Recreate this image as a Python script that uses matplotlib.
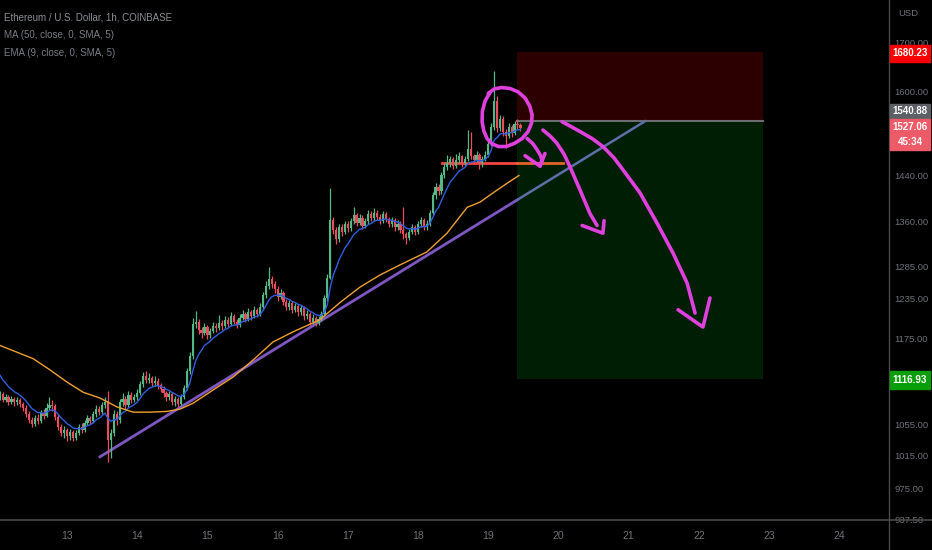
import numpy as np
import pandas as pd
import matplotlib
matplotlib.use('Agg')
import matplotlib.pyplot as plt
from matplotlib.lines import Line2D
from matplotlib.patches import Rectangle
from matplotlib.ticker import FixedLocator, FixedFormatter, NullLocator

plt.rcParams['font.family'] = ['Liberation Sans', 'DejaVu Sans']

# hourly ETH/USD candles, t = hours after the 13th 00:00
t_start = -23
first_open = 1092
closes = [1096, 1089, 1093, 1086, 1090, 1085, 1089,
          1083, 1078, 1070, 1062, 1056,
          1064, 1060, 1071, 1067, 1078, 1082, 1080,
          1066, 1052, 1044, 1048,
          1040, 1046, 1038, 1045, 1052, 1049, 1058, 1064, 1060, 1070, 1076, 1072, 1081, 1085,
          1035, 1045, 1070, 1062, 1085, 1090, 1082, 1095, 1088, 1092,
          1098, 1110, 1122, 1116, 1119, 1112, 1115, 1109, 1104, 1098, 1092, 1096, 1086, 1090, 1083,
          1092, 1105, 1128, 1150, 1196,
          1200, 1188, 1183, 1192, 1180, 1186, 1194, 1190, 1198, 1193, 1203, 1197, 1208, 1200,
          1195, 1206, 1212, 1204, 1214, 1208, 1218, 1212, 1222,
          1240, 1255, 1266, 1258, 1250, 1238, 1244, 1230, 1222, 1228, 1218, 1224, 1214, 1220,
          1208, 1212, 1200, 1206, 1198, 1204, 1212, 1236, 1268,
          1362, 1345, 1330, 1350, 1342, 1355, 1348, 1360, 1370, 1358, 1366, 1352, 1360, 1372,
          1365, 1375, 1368, 1360, 1372, 1364, 1356, 1362, 1350, 1356, 1345, 1338, 1332, 1342,
          1350, 1342, 1355, 1362, 1350, 1356,
          1375, 1405, 1420, 1412, 1440, 1455, 1462, 1470, 1458, 1468, 1475, 1462, 1470, 1488,
          1475, 1468, 1478, 1462, 1470, 1478, 1498, 1530,
          1580, 1528, 1545, 1520, 1512, 1530, 1518, 1535, 1534, 1527]
highs = [1101, 1099, 1097, 1095, 1094, 1093, 1093,
         1091, 1086, 1081, 1073, 1066,
         1068, 1069, 1075, 1076, 1084, 1092, 1088,
         1083, 1069, 1056, 1053,
         1051, 1050, 1049, 1049, 1056, 1057, 1062, 1068, 1067, 1074, 1082, 1080, 1086, 1092,
         1101, 1050, 1075, 1074, 1090, 1098, 1094, 1100, 1099, 1097,
         1103, 1115, 1127, 1128, 1125, 1122, 1121, 1118, 1112, 1108, 1101, 1100, 1099, 1094, 1093,
         1096, 1109, 1132, 1155, 1205,
         1216, 1204, 1192, 1198, 1195, 1191, 1200, 1198, 1210, 1202, 1208, 1207, 1214, 1212,
         1204, 1211, 1218, 1215, 1220, 1218, 1223, 1221, 1228,
         1245, 1262, 1284, 1270, 1262, 1254, 1250, 1247, 1234, 1233, 1231, 1229, 1227, 1226,
         1223, 1217, 1215, 1211, 1209, 1209, 1216, 1240, 1274,
         1418, 1368, 1350, 1356, 1355, 1360, 1360, 1366, 1385, 1374, 1372, 1370, 1366, 1380,
         1378, 1382, 1380, 1372, 1377, 1376, 1368, 1367, 1365, 1362, 1360, 1384, 1342, 1347,
         1355, 1354, 1360, 1368, 1366, 1362,
         1380, 1410, 1426, 1425, 1446, 1462, 1478, 1475, 1474, 1480, 1482, 1478, 1476, 1525,
         1520, 1480, 1484, 1481, 1475, 1484, 1504, 1538,
         1640, 1590, 1552, 1550, 1526, 1538, 1534, 1542, 1545, 1538]
lows = [1089, 1085, 1086, 1082, 1083, 1080, 1082,
        1079, 1074, 1066, 1058, 1052,
        1053, 1056, 1058, 1063, 1065, 1075, 1074,
        1062, 1048, 1040, 1038,
        1034, 1036, 1034, 1035, 1042, 1045, 1046, 1055, 1056, 1057, 1066, 1068, 1070, 1078,
        1008, 1012, 1040, 1055, 1058, 1080, 1076, 1079, 1084, 1085,
        1088, 1095, 1106, 1111, 1112, 1107, 1108, 1104, 1099, 1093, 1087, 1088, 1081, 1080, 1079,
        1081, 1090, 1102, 1124, 1146,
        1190, 1182, 1176, 1180, 1174, 1176, 1183, 1185, 1187, 1188, 1190, 1192, 1194, 1196,
        1190, 1192, 1202, 1199, 1201, 1203, 1205, 1207, 1209,
        1218, 1236, 1250, 1252, 1244, 1232, 1234, 1225, 1217, 1218, 1213, 1214, 1209, 1210,
        1203, 1204, 1195, 1196, 1193, 1195, 1201, 1209, 1232,
        1265, 1338, 1322, 1326, 1336, 1338, 1342, 1344, 1355, 1352, 1353, 1347, 1348, 1356,
        1360, 1361, 1363, 1355, 1357, 1359, 1350, 1351, 1344, 1346, 1340, 1330, 1322, 1328,
        1338, 1337, 1338, 1350, 1345, 1346,
        1352, 1370, 1398, 1405, 1408, 1436, 1450, 1455, 1452, 1454, 1463, 1456, 1457, 1466,
        1470, 1462, 1464, 1452, 1455, 1466, 1474, 1494,
        1525, 1520, 1522, 1512, 1490, 1508, 1510, 1514, 1526, 1522]

# MA 50 line
ma50_t = [-22.9, -11.6, -5.8, 0, 5.5, 11.3, 17.1, 22.6, 28.4, 34.2, 38.6, 43.1, 49.9,
          56.8, 63.6, 70.4, 77.3, 86.5, 93.3, 100.2, 107, 113.8, 123, 129.9, 136.8,
          141.2, 145.6, 150.4, 154.5]
ma50_p = [1165, 1146, 1130, 1113, 1099, 1091, 1079, 1072, 1072, 1073, 1076, 1084, 1102,
          1120, 1144, 1170, 1185, 1203, 1229, 1253, 1272, 1288, 1309, 1340, 1384,
          1393, 1409, 1426, 1440]
ema_seed = 1130

# drawings
trend_t = [11.3, 197.6]
trend_p = [1014, 1540.88]
support_t = [128.2, 169.6]
support_p = 1462
pos_t = [153.8, 238]
stop_price = 1680.23
entry_price = 1540.88
target_price = 1116.93
last_price = 1527.06

circle_t = [144.0, 146.0, 148.5, 151.5, 154.3, 156.6, 158.2, 159.0, 158.8, 157.6, 155.6,
            153.0, 150.2, 147.5, 145.3, 143.6, 142.5, 141.9, 142.0, 142.9, 144.5]
circle_p = [1595, 1604, 1607, 1605, 1598, 1586, 1570, 1553, 1537, 1521, 1508,
            1499, 1493, 1493, 1498, 1508, 1522, 1540, 1560, 1580, 1596]
arrow1_t = [157.3, 159.3, 160.7, 161.8, 162.4, 161.7]
arrow1_p = [1508, 1498, 1487, 1477, 1468, 1457]
head1_t = [156.6, 161.7, 163.4]
head1_p = [1476, 1457, 1480]
arrow2_t = [162.7, 165.3, 167.5, 170.0, 172.0, 175.4, 178.8, 181.2]
arrow2_p = [1524, 1512, 1499, 1478, 1455, 1414, 1373, 1353]
head2_t = [176.1, 183.2, 183.6]
head2_p = [1353, 1340, 1361]
arrow3_t = [169.2, 172.5, 175.4, 179.5, 183.2, 187.0, 190.1, 195.9, 201.7, 207.2, 212.0, 214.7]
arrow3_p = [1540, 1530, 1521, 1508, 1493, 1472, 1450, 1409, 1357, 1307, 1259, 1213]
head3_t = [208.9, 217.4, 219.8]
head3_p = [1218, 1192, 1236]

day_labels = ['13', '14', '15', '16', '17', '18', '19', '20', '21', '22', '23', '24']
price_ticks = [1700, 1600, 1440, 1360, 1285, 1235, 1175, 1055, 1015, 975, 937.5]

W, H = 932, 550
fig = plt.figure(figsize=(W / 100, H / 100), dpi=100, facecolor='black')
ax = fig.add_axes([0, 30 / H, 889 / W, 520 / H])
ax.set_facecolor('black')

t = np.arange(t_start, t_start + len(closes))
c = np.array(closes, dtype=float)
o = np.array([first_open] + closes[:-1], dtype=float)
up = c >= o
col = np.where(up, '#53b987', '#eb4d5c')

# position box
ax.fill_between(pos_t, entry_price, stop_price, color='#2d0000', lw=0, zorder=1)
ax.fill_between(pos_t, target_price, entry_price, color='#001e03', lw=0, zorder=1)
ax.plot(pos_t, [entry_price] * 2, color='#6b6d72', lw=1.5, zorder=2)

# trend line, split where it enters the box
p_split = np.exp(np.interp(pos_t[0], trend_t, np.log(trend_p)))
ax.plot([trend_t[0], pos_t[0]], [trend_p[0], p_split], color='#7e57c2', lw=2, zorder=2)
ax.plot([pos_t[0], trend_t[1]], [p_split, trend_p[1]], color='#5b6fa8', lw=1.8, zorder=2)

# support line
ax.plot([support_t[0], pos_t[0]], [support_p] * 2, color='#f2453d', lw=2, zorder=2)
ax.plot([pos_t[0], support_t[1]], [support_p] * 2, color='#e0642a', lw=2, zorder=2)

# candles
ax.vlines(t, lows, highs, colors=col, lw=0.9, zorder=3)
body = np.maximum(np.abs(c - o), 1.5)
ax.bar(t, body, bottom=np.minimum(o, c), width=0.75, color=col, lw=0, zorder=4)

# moving averages
ema = pd.Series([ema_seed] + closes, dtype=float).ewm(span=9, adjust=False).mean().values[1:]
ax.plot(t, ema, color='#2f5fe0', lw=1, zorder=5)
ax.plot(ma50_t, ma50_p, color='#f0a030', lw=1, zorder=5)

# hand drawings
mag = dict(color='#e040dd', lw=2.6, solid_capstyle='round', solid_joinstyle='round', zorder=6)
for xs, ys in [(circle_t, circle_p), (arrow1_t, arrow1_p), (head1_t, head1_p),
               (arrow2_t, arrow2_p), (head2_t, head2_p), (arrow3_t, arrow3_p), (head3_t, head3_p)]:
    ax.plot(xs, ys, **mag)

ax.set_yscale('log')
ax.set_ylim(937.1, 1792.3)
ax.set_xlim(-22.9, 281.0)
ax.yaxis.tick_right()
ax.yaxis.set_major_locator(FixedLocator(price_ticks))
ax.yaxis.set_major_formatter(FixedFormatter(['%.2f' % p for p in price_ticks]))
ax.yaxis.set_minor_locator(NullLocator())
ax.set_xticks(np.arange(len(day_labels)) * 24)
ax.set_xticklabels(day_labels)
ax.tick_params(length=0, colors='#6f727a')
ax.tick_params(axis='y', pad=4, labelsize=6.8)
ax.tick_params(axis='x', pad=8, labelsize=7.5)
for s in ax.spines.values():
    s.set_visible(False)

fig.add_artist(Line2D([889 / W, 889 / W], [0, 1], color='#4a4a4a', lw=1))
fig.add_artist(Line2D([0, 1], [30 / H, 30 / H], color='#4a4a4a', lw=1.2))

def px(x, y):
    return x / W, 1 - y / H

fig.text(*px(4, 17), 'Ethereum / U.S. Dollar, 1h, COINBASE', color='#8c8f97', fontsize=7, va='center')
fig.text(*px(4, 35), 'MA (50, close, 0, SMA, 5)', color='#7a7d85', fontsize=7, va='center')
fig.text(*px(4, 53), 'EMA (9, close, 0, SMA, 5)', color='#7a7d85', fontsize=7, va='center')
fig.text(*px(898, 14), 'USD', color='#6f727a', fontsize=6.8, va='center')

def price_box(y0, y1, fc, lines):
    fig.add_artist(Rectangle(px(890, y1), 40 / W, (y1 - y0) / H, color=fc, zorder=5))
    n = len(lines)
    for i, s in enumerate(lines):
        yc = y0 + (y1 - y0) * (i + 0.5) / n
        fig.text(*px(910, yc), s, color='white', fontsize=7, fontweight='bold',
                 ha='center', va='center', zorder=6)

price_box(45, 62, '#f70000', ['%.2f' % stop_price])
price_box(104, 119, '#5d5f66', ['%.2f' % entry_price])
price_box(119, 150, '#ee5b68', ['%.2f' % last_price, '45:34'])
price_box(371, 389, '#0a9e0a', ['%.2f' % target_price])

fig.savefig('out.png', dpi=100, facecolor='black')
